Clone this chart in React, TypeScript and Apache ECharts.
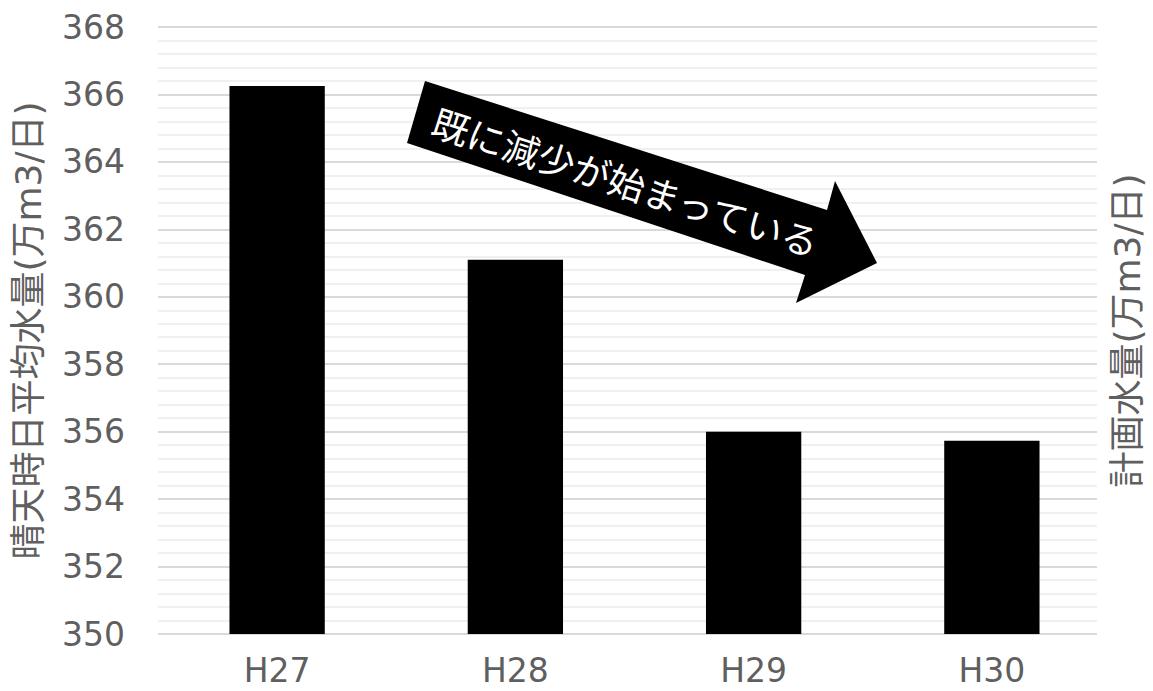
import React, { useEffect, useRef } from "react";
import * as echarts from "echarts";

const categories = ["H27", "H28", "H29", "H30"];
const values = [366.25, 361.1, 356.0, 355.73];
const yTicks = { min: 350, max: 368, interval: 2 };
const leftAxisName = "晴天時日平均水量(万m3/日)";
const rightAxisName = "計画水量(万m3/日)";
const annotationText = "既に減少が始まっている";

export default function App() {
  const ref = useRef<HTMLDivElement>(null);
  useEffect(() => {
    const chart = echarts.init(ref.current!, null, { renderer: "svg" });
    const font = "'DejaVu Sans', 'Noto Sans CJK JP', sans-serif";
    const cjk = "'Noto Sans CJK JP', sans-serif";
    chart.setOption({
      animation: false,
      textStyle: { fontFamily: font },
      grid: [
        { left: 158, right: 42, top: 27, bottom: 57 },
        { left: 158, right: 50, top: 27, bottom: 57 },
      ],
      xAxis: [
        {
          type: "category",
          gridIndex: 0,
          data: categories,
          axisLine: { show: false },
          axisTick: { show: false },
          axisLabel: { color: "#5f5f5f", fontSize: 33, margin: 20, fontFamily: font },
        },
        {
          type: "category",
          gridIndex: 1,
          data: categories,
          show: false,
        },
      ],
      yAxis: [
        {
          type: "value",
          gridIndex: 0,
          min: yTicks.min,
          max: yTicks.max,
          interval: yTicks.interval,
          show: false,
          splitLine: { show: false },
        },
        {
          type: "value",
          gridIndex: 1,
          min: yTicks.min,
          max: yTicks.max,
          interval: yTicks.interval,
          axisLine: { show: false },
          axisTick: { show: false },
          axisLabel: { color: "#5f5f5f", fontSize: 33, margin: 33, fontFamily: font },
          splitLine: { lineStyle: { color: "#d9d9d9", width: 2 } },
          minorTick: { show: false, splitNumber: 5 },
          minorSplitLine: { show: true, lineStyle: { color: "#f0f0f0", width: 2 } },
          name: leftAxisName,
          nameLocation: "middle",
          nameRotate: 90,
          nameGap: 112,
          nameTextStyle: { color: "#5f5f5f", fontSize: 36, fontFamily: font },
        },
        {
          type: "value",
          gridIndex: 1,
          position: "right",
          min: yTicks.min,
          max: yTicks.max,
          interval: yTicks.interval,
          axisLine: { show: false },
          axisTick: { show: false },
          axisLabel: { show: false },
          splitLine: { show: false },
          name: rightAxisName,
          nameLocation: "middle",
          nameRotate: 90,
          nameGap: 12,
          nameTextStyle: { color: "#5f5f5f", fontSize: 36, fontFamily: font },
        },
      ],
      series: [
        {
          type: "bar",
          xAxisIndex: 0,
          yAxisIndex: 0,
          data: values,
          barWidth: "40%",
          itemStyle: { color: "#000000" },
          z: 5,
        },
      ],
      graphic: [
        {
          type: "polygon",
          shape: {
            points: [
              [425, 81],
              [827, 210],
              [835, 181],
              [877, 263],
              [796, 303],
              [805, 275],
              [407, 143],
            ],
          },
          style: { fill: "#000000" },
          z: 10,
        },
        {
          type: "text",
          x: 626,
          y: 181,
          rotation: -0.31,
          style: {
            text: annotationText,
            fill: "#ffffff",
            fontSize: 37,
            fontFamily: cjk,
            align: "center",
            verticalAlign: "middle",
          },
          z: 11,
        },
      ],
    });
    return () => chart.dispose();
  }, []);
  return (
    <div
      ref={ref}
      style={{ position: "absolute", left: 0, top: 0, width: 1153, height: 691, background: "#fff" }}
    />
  );
}
